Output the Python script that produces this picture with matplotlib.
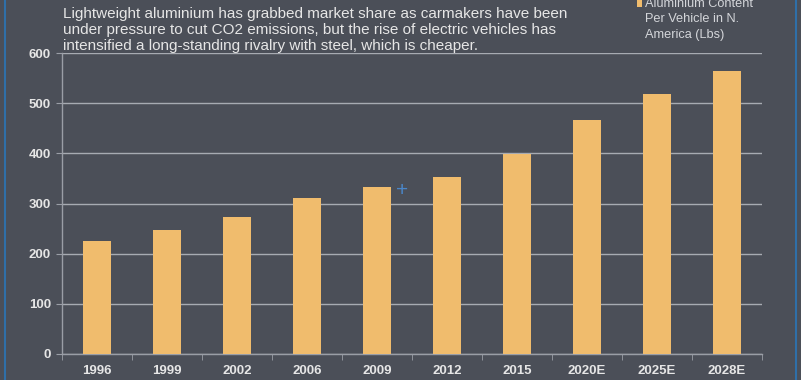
import matplotlib
matplotlib.use("Agg")
import matplotlib.pyplot as plt
from matplotlib.lines import Line2D
from matplotlib.patches import Rectangle

categories = ["1996", "1999", "2002", "2006", "2009", "2012", "2015", "2020E", "2025E", "2028E"]
values = [225, 248, 273, 311, 333, 352, 398, 466, 519, 564]
yticks = [0, 100, 200, 300, 400, 500, 600]

bg = "#4b4f58"
bar_color = "#f0bc6d"
text_color = "#e6e6e6"
axis_color = "#9a9ea6"

plt.rcParams['font.family'] = ['Liberation Sans', 'DejaVu Sans']

W, H = 801, 380
fig = plt.figure(figsize=(W / 100, H / 100), dpi=100, facecolor=bg)
ax = fig.add_axes([62 / W, (H - 354) / H, 700 / W, (354 - 53) / H])
ax.set_facecolor(bg)

x = list(range(len(categories)))
ax.bar(x, values, width=0.4, color=bar_color, zorder=3)

ax.set_xlim(-0.5, len(categories) - 0.5)
ax.set_ylim(0, 600)
ax.set_yticks(yticks)
ax.set_yticklabels([str(v) for v in yticks])
ax.set_xticks(x)
ax.set_xticklabels(categories)
ax.set_xticks([i + 0.5 for i in range(-1, len(categories))], minor=True)

ax.grid(axis='y', color="#a7abb2", linewidth=1.0, zorder=1)
for s in ['top', 'right']:
    ax.spines[s].set_visible(False)
for s in ['left', 'bottom']:
    ax.spines[s].set_color(axis_color)
    ax.spines[s].set_linewidth(1.0)

ax.tick_params(axis='x', which='major', length=0, pad=8, labelsize=9.5, labelcolor=text_color)
ax.tick_params(axis='x', which='minor', length=4, color=axis_color, direction='out')
ax.tick_params(axis='y', which='major', length=4, color=axis_color, pad=4, labelsize=9.5, labelcolor=text_color)
for lab in ax.get_xticklabels() + ax.get_yticklabels():
    lab.set_fontweight('bold')

fig.text(63 / W, 1 - 7 / H,
         "Lightweight aluminium has grabbed market share as carmakers have been\n"
         "under pressure to cut CO2 emissions, but the rise of electric vehicles has\n"
         "intensified a long-standing rivalry with steel, which is cheaper.",
         color=text_color, fontsize=11, va='top', ha='left', linespacing=1.17)

# legend
fig.patches.append(Rectangle((637 / W, 1 - 7 / H), 5 / W, 7 / H, transform=fig.transFigure,
                             facecolor=bar_color, edgecolor='none'))
fig.text(645 / W, 1 - (-2) / H,
         "Aluminium Content\nPer Vehicle in N.\nAmerica (Lbs)",
         color="#d4d6da", fontsize=9.2, va='top', ha='left', linespacing=1.38)

# blue frame edges
fig.add_artist(Line2D([4.5 / W, 4.5 / W], [0, 1], transform=fig.transFigure, color="#2f6fa8", linewidth=1.5))
fig.add_artist(Line2D([795.5 / W, 795.5 / W], [0, 1], transform=fig.transFigure, color="#2f6fa8", linewidth=1.5))

# crosshair artifact
fig.text(402 / W, 1 - 190 / H, "+", color="#4a86c8", fontsize=15, ha='center', va='center',
         fontweight='light')

fig.savefig("out.png", dpi=100, facecolor=bg)
